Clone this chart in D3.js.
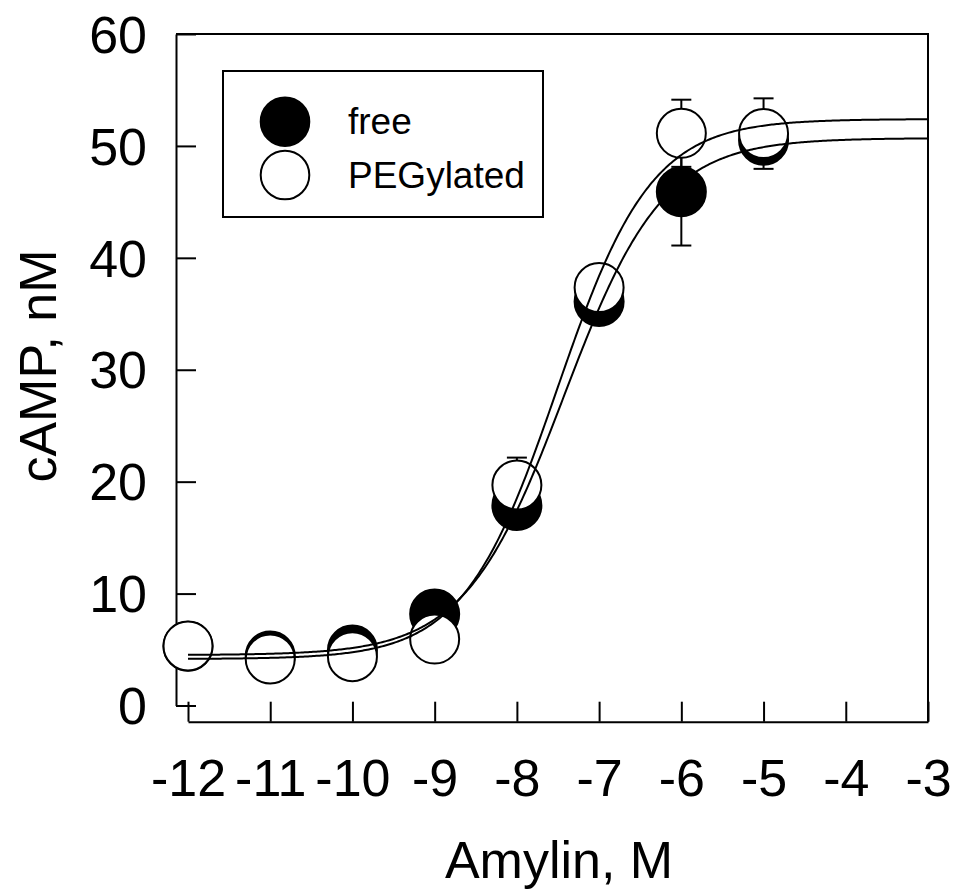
<!DOCTYPE html>
<html>
<head>
<meta charset="utf-8">
<script src="https://cdn.jsdelivr.net/npm/d3@7"></script>
<style>
  body { margin: 0; background: #fff; }
  text { font-family: "Liberation Sans", Arial, sans-serif; fill: #000; }
</style>
</head>
<body>
<div id="chart"></div>
<script>
// data
const logDose = [-12, -11, -10, -9, -8, -7, -6, -5];
const freeMean = [5.3, 4.42, 4.96, 8.18, 17.87, 36.1, 45.9, 50.5];
const freeErr  = [0, 0, 0, 0, 0, 0, 4.8, 1.5];
const pegMean  = [5.32, 4.16, 4.36, 5.94, 19.7, 37.34, 51.13, 51.1];
const pegErr   = [0, 0, 0, 0, 2.45, 0, 3.0, 3.15];

// logistic fit parameters [bottom, top, logEC50, hill]
const freeFit = [4.5, 50.7, -7.43, 0.72];
const pegFit  = [4.15, 52.4, -7.51, 0.76];

const xTicks = [-12, -11, -10, -9, -8, -7, -6, -5, -4, -3];
const yTicks = [0, 10, 20, 30, 40, 50, 60];
const seriesNames = ["free", "PEGylated"];

const W = 962, H = 889
  , r = 24.5
  , font = 52;

const svg = d3.select("#chart").append("svg")
  .attr("width", W)
  .attr("height", H);

const x = d3.scaleLinear().domain([-12, -3]).range([188, 928]);
const y = d3.scaleLinear().domain([0, 60]).range([705.5, 34]);

// axes
const xAxis = svg.append("g")
  .attr("transform", "translate(0,721.7)")
  .call(d3.axisBottom(x).tickValues(xTicks).tickSizeInner(-20).tickSizeOuter(0)
    .tickPadding(37).tickFormat(d => String(d)));

const yAxis = svg.append("g")
  .attr("transform", "translate(176,0)")
  .call(d3.axisLeft(y).tickValues(yTicks).tickSizeInner(-20).tickSizeOuter(0)
    .tickPadding(29).tickFormat(d => String(d)));

[xAxis, yAxis].forEach(g => {
  g.select(".domain").attr("stroke", "#000").attr("stroke-width", 2);
  g.selectAll(".tick line").attr("stroke", "#000").attr("stroke-width", 2);
  g.selectAll(".tick text")
    .style("font-family", '"Liberation Sans", Arial, sans-serif')
    .style("font-size", font + "px")
    .attr("fill", "#000");
  g.attr("font-family", null).attr("font-size", null);
});
xAxis.selectAll(".tick text").attr("dy", "0.71em");
yAxis.selectAll(".tick text").attr("dy", "0.35em");

// frame top and right
svg.append("path")
  .attr("d", `M${x.range()[0] - 12},${y(60)}H${x(-3)}V721.7`)
  .attr("fill", "none")
  .attr("stroke", "#000")
  .attr("stroke-width", 2);

// axis titles
svg.append("text")
  .attr("x", 559)
  .attr("y", 878)
  .attr("text-anchor", "middle")
  .style("font-size", font + "px")
  .text("Amylin, M");

svg.append("text")
  .attr("transform", "translate(56,366) rotate(-90)")
  .attr("text-anchor", "middle")
  .style("font-size", font + "px")
  .text("cAMP, nM");

// error bars (drawn under the symbols)
function errorBars(means, errs) {
  const pts = logDose.map((d, i) => ({ x: d, m: means[i], e: errs[i] })).filter(d => d.e > 0);
  const g = svg.append("g").attr("stroke", "#000").attr("stroke-width", 2);
  pts.forEach(d => {
    g.append("line")
      .attr("x1", x(d.x)).attr("x2", x(d.x))
      .attr("y1", y(d.m - d.e)).attr("y2", y(d.m + d.e));
    [d.m - d.e, d.m + d.e].forEach(v => {
      g.append("line")
        .attr("x1", x(d.x) - 10).attr("x2", x(d.x) + 10)
        .attr("y1", y(v)).attr("y2", y(v));
    });
  });
}
errorBars(pegMean, pegErr);
errorBars(freeMean, freeErr);

function symbols(means, fill) {
  svg.append("g").selectAll("circle")
    .data(logDose.map((d, i) => [d, means[i]]))
    .enter().append("circle")
    .attr("cx", d => x(d[0]))
    .attr("cy", d => y(d[1]))
    .attr("r", r)
    .attr("fill", fill)
    .attr("stroke", "#000")
    .attr("stroke-width", 2);
}
symbols(freeMean, "#000");
symbols(pegMean, "#fff");

// fitted curves
function logistic(p, v) {
  return p[0] + (p[1] - p[0]) / (1 + Math.pow(10, (p[2] - v) * p[3]));
}
const xs = d3.range(-12, -2.999, 0.02);
const line = d3.line().x(d => x(d)).y(d => y(d.val));
[freeFit, pegFit].forEach(p => {
  svg.append("path")
    .datum(xs)
    .attr("d", d3.line().x(d => x(d)).y(d => y(logistic(p, d))))
    .attr("fill", "none")
    .attr("stroke", "#000")
    .attr("stroke-width", 2);
});

// legend
const legend = svg.append("g");
legend.append("rect")
  .attr("x", 223).attr("y", 71)
  .attr("width", 320).attr("height", 146)
  .attr("fill", "none")
  .attr("stroke", "#000")
  .attr("stroke-width", 2);

const legendRows = [
  { name: seriesNames[0], fill: "#000", cy: 121.7 },
  { name: seriesNames[1], fill: "#fff", cy: 175 }
];
legendRows.forEach(d => {
  legend.append("circle")
    .attr("cx", 285).attr("cy", d.cy).attr("r", 24.3)
    .attr("fill", d.fill)
    .attr("stroke", "#000")
    .attr("stroke-width", 2);
  legend.append("text")
    .attr("x", 348)
    .attr("y", d.cy + 12.5)
    .style("font-size", "37px")
    .text(d.name);
});
</script>
</body>
</html>
